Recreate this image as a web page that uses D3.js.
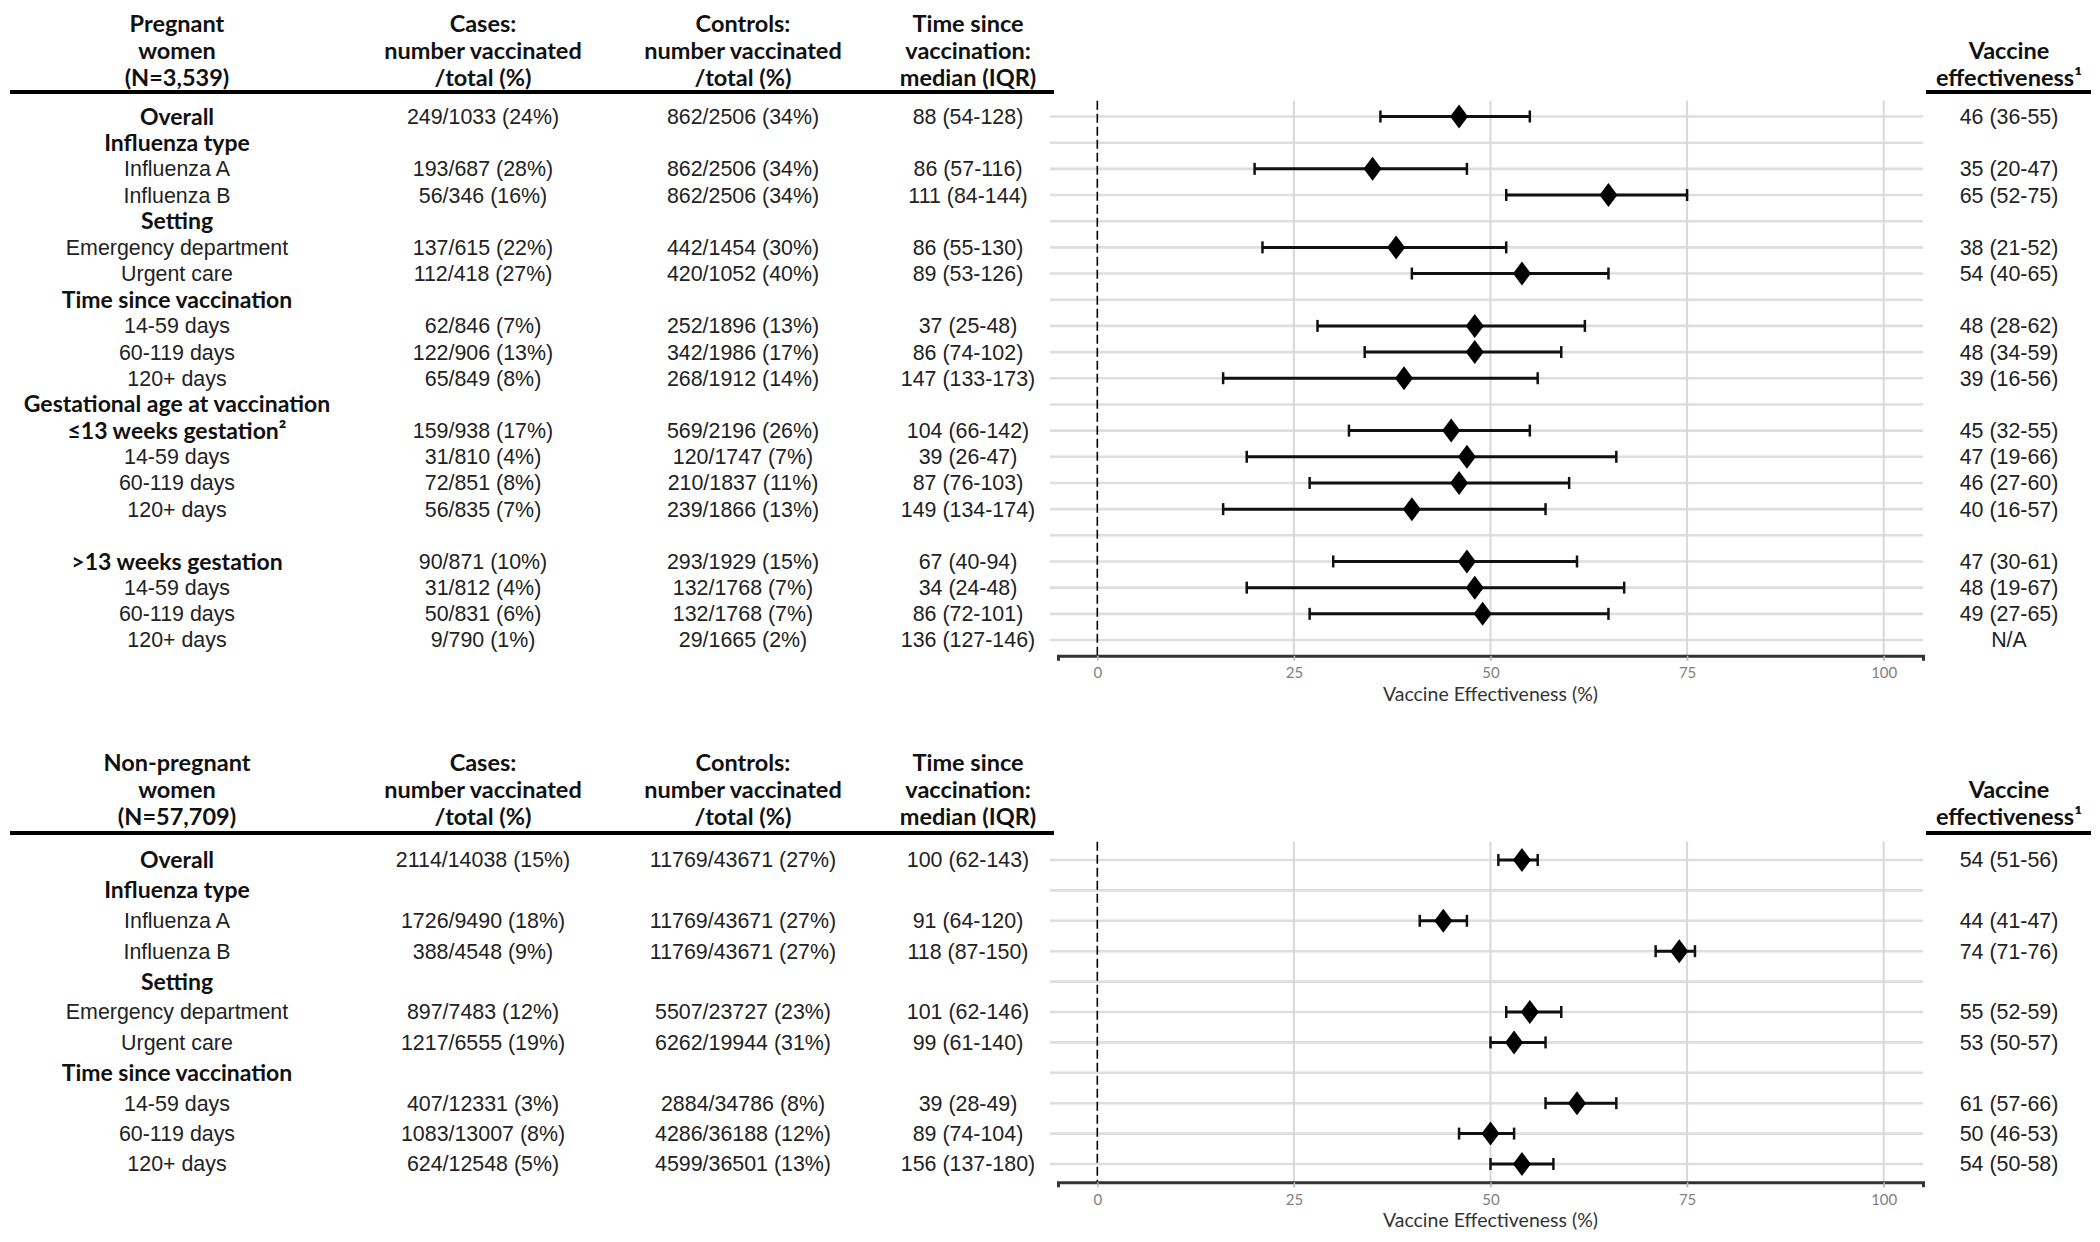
<!DOCTYPE html>
<html lang="en">
<head>
<meta charset="utf-8">
<script src="https://cdn.jsdelivr.net/npm/d3@7"></script>
<style>
body { margin: 0; background: #fff; }
.hdr { font-family: Lato, "Open Sans", sans-serif; font-weight: 700; font-size: 23.5px; fill: #111; }
.cell { font-family: "Liberation Sans", Arial, sans-serif; font-size: 21.4px; fill: #222; }
.cell.b { font-family: Lato, "Open Sans", sans-serif; font-weight: 700; font-size: 23px; fill: #111; }
.tick text { font-family: Lato, sans-serif; font-size: 15px; fill: #808080; }
.atitle { font-family: Lato, sans-serif; font-size: 19.5px; fill: #333; }
</style>
</head>
<body>
<div id="chart"></div>
<script>
// ---- data: pregnant women ----
var pregLabels = ["Overall","Influenza type","Influenza A","Influenza B","Setting","Emergency department","Urgent care",
  "Time since vaccination","14-59 days","60-119 days","120+ days","Gestational age at vaccination","≤13 weeks gestation²",
  "14-59 days","60-119 days","120+ days","",">13 weeks gestation","14-59 days","60-119 days","120+ days"];
var pregBold = [1,1,0,0,1,0,0,1,0,0,0,1,1,0,0,0,0,1,0,0,0];
var pregCases = ["249/1033 (24%)","","193/687 (28%)","56/346 (16%)","","137/615 (22%)","112/418 (27%)","",
  "62/846 (7%)","122/906 (13%)","65/849 (8%)","","159/938 (17%)","31/810 (4%)","72/851 (8%)","56/835 (7%)","",
  "90/871 (10%)","31/812 (4%)","50/831 (6%)","9/790 (1%)"];
var pregControls = ["862/2506 (34%)","","862/2506 (34%)","862/2506 (34%)","","442/1454 (30%)","420/1052 (40%)","",
  "252/1896 (13%)","342/1986 (17%)","268/1912 (14%)","","569/2196 (26%)","120/1747 (7%)","210/1837 (11%)","239/1866 (13%)","",
  "293/1929 (15%)","132/1768 (7%)","132/1768 (7%)","29/1665 (2%)"];
var pregTime = ["88 (54-128)","","86 (57-116)","111 (84-144)","","86 (55-130)","89 (53-126)","",
  "37 (25-48)","86 (74-102)","147 (133-173)","","104 (66-142)","39 (26-47)","87 (76-103)","149 (134-174)","",
  "67 (40-94)","34 (24-48)","86 (72-101)","136 (127-146)"];
var pregVE = [46,null,35,65,null,38,54,null,48,48,39,null,45,47,46,40,null,47,48,49,null];
var pregLo = [36,null,20,52,null,21,40,null,28,34,16,null,32,19,27,16,null,30,19,27,null];
var pregHi = [55,null,47,75,null,52,65,null,62,59,56,null,55,66,60,57,null,61,67,65,null];
var pregVEText = ["46 (36-55)","","35 (20-47)","65 (52-75)","","38 (21-52)","54 (40-65)","",
  "48 (28-62)","48 (34-59)","39 (16-56)","","45 (32-55)","47 (19-66)","46 (27-60)","40 (16-57)","",
  "47 (30-61)","48 (19-67)","49 (27-65)","N/A"];

// ---- data: non-pregnant women ----
var npLabels = ["Overall","Influenza type","Influenza A","Influenza B","Setting","Emergency department","Urgent care",
  "Time since vaccination","14-59 days","60-119 days","120+ days"];
var npBold = [1,1,0,0,1,0,0,1,0,0,0];
var npCases = ["2114/14038 (15%)","","1726/9490 (18%)","388/4548 (9%)","","897/7483 (12%)","1217/6555 (19%)","",
  "407/12331 (3%)","1083/13007 (8%)","624/12548 (5%)"];
var npControls = ["11769/43671 (27%)","","11769/43671 (27%)","11769/43671 (27%)","","5507/23727 (23%)","6262/19944 (31%)","",
  "2884/34786 (8%)","4286/36188 (12%)","4599/36501 (13%)"];
var npTime = ["100 (62-143)","","91 (64-120)","118 (87-150)","","101 (62-146)","99 (61-140)","",
  "39 (28-49)","89 (74-104)","156 (137-180)"];
var npVE = [54,null,44,74,null,55,53,null,61,50,54];
var npLo = [51,null,41,71,null,52,50,null,57,46,50];
var npHi = [56,null,47,76,null,59,57,null,66,53,58];
var npVEText = ["54 (51-56)","","44 (41-47)","74 (71-76)","","55 (52-59)","53 (50-57)","",
  "61 (57-66)","50 (46-53)","54 (50-58)"];

// ---- headers / axis ----
var pregHeader = [["Pregnant","women","(N=3,539)"],["Cases:","number vaccinated","/total (%)"],
  ["Controls:","number vaccinated","/total (%)"],["Time since","vaccination:","median (IQR)"]];
var npHeader = [["Non-pregnant","women","(N=57,709)"],["Cases:","number vaccinated","/total (%)"],
  ["Controls:","number vaccinated","/total (%)"],["Time since","vaccination:","median (IQR)"]];
var veHeader = ["Vaccine","effectiveness¹"];
var xTicks = [0,25,50,75,100];
var xTitle = "Vaccine Effectiveness (%)";

var W = 2100, H = 1242;
var svg = d3.select("#chart").append("svg").attr("width", W).attr("height", H);

var colX = [177, 483, 743, 968];
var veX = 2009;
var x = d3.scaleLinear().domain([-5, 105]).range([1058, 1923]);

function drawPanel(p) {
  var n = p.labels.length;
  var y = d3.scalePoint().domain(d3.range(n)).range([p.y0, p.y1]);
  var step = y.step();
  var top = p.y0 - 0.6 * step, bottom = p.y1 + 0.6 * step;
  var g = svg.append("g");

  // header
  p.header.forEach(function(lines, c) {
    lines.forEach(function(t, k) {
      g.append("text").attr("class", "hdr").attr("x", colX[c]).attr("y", p.hy + k * 27)
        .attr("text-anchor", "middle").attr("dy", "0.35em").text(t);
    });
  });
  veHeader.forEach(function(t, k) {
    g.append("text").attr("class", "hdr").attr("x", veX).attr("y", p.hy + (k + 1) * 27)
      .attr("text-anchor", "middle").attr("dy", "0.35em").text(t);
  });
  g.append("line").attr("x1", 10).attr("x2", 1054).attr("y1", p.ruleY).attr("y2", p.ruleY)
    .attr("stroke", "#000").attr("stroke-width", 4);
  g.append("line").attr("x1", 1926).attr("x2", 2091).attr("y1", p.ruleY).attr("y2", p.ruleY)
    .attr("stroke", "#000").attr("stroke-width", 4);

  // grid
  g.selectAll(".hg").data(d3.range(n)).enter().append("line")
    .attr("x1", 1050).attr("x2", 1923).attr("y1", function(i) { return y(i); }).attr("y2", function(i) { return y(i); })
    .attr("stroke", "#dedede").attr("stroke-width", 2.6);
  g.selectAll(".vg").data(xTicks.slice(1)).enter().append("line")
    .attr("x1", function(d) { return x(d); }).attr("x2", function(d) { return x(d); })
    .attr("y1", top).attr("y2", bottom + 5).attr("stroke", "#d8d8d8").attr("stroke-width", 2);
  g.append("line").attr("x1", x(0)).attr("x2", x(0)).attr("y1", top).attr("y2", bottom)
    .attr("stroke", "#000").attr("stroke-width", 1.6).attr("stroke-dasharray", "9,4");

  // axis
  var ax = g.append("g").attr("transform", "translate(0," + bottom + ")")
    .call(d3.axisBottom(x).tickValues(xTicks).tickSize(5).tickPadding(7));
  ax.select(".domain").attr("stroke", "#333").attr("stroke-width", 3);
  ax.selectAll(".tick line").attr("stroke", "#bbb").attr("stroke-width", 1.5);
  g.append("text").attr("class", "atitle").attr("x", x(50)).attr("y", bottom + 38)
    .attr("text-anchor", "middle").attr("dy", "0.35em").text(xTitle);

  // CI + points
  var idx = d3.range(n).filter(function(i) { return p.ve[i] != null; });
  g.selectAll(".ci").data(idx).enter().append("line")
    .attr("x1", function(i) { return x(p.lo[i]); }).attr("x2", function(i) { return x(p.hi[i]); })
    .attr("y1", function(i) { return y(i); }).attr("y2", function(i) { return y(i); })
    .attr("stroke", "#111").attr("stroke-width", 3);
  [p.lo, p.hi].forEach(function(arr) {
    g.selectAll(null).data(idx).enter().append("line")
      .attr("x1", function(i) { return x(arr[i]); }).attr("x2", function(i) { return x(arr[i]); })
      .attr("y1", function(i) { return y(i) - 6; }).attr("y2", function(i) { return y(i) + 6; })
      .attr("stroke", "#111").attr("stroke-width", 2.5);
  });
  g.selectAll(".pt").data(idx).enter().append("path")
    .attr("d", function(i) {
      var cx = x(p.ve[i]), cy = y(i);
      return "M" + cx + "," + (cy - 12) + "L" + (cx + 9) + "," + cy + "L" + cx + "," + (cy + 12) + "L" + (cx - 9) + "," + cy + "Z";
    })
    .attr("fill", "#000");

  // table text
  var cols = [p.labels, p.cases, p.controls, p.time];
  cols.forEach(function(arr, c) {
    g.selectAll(null).data(arr).enter().append("text")
      .attr("class", function(d, i) { return (c === 0 && p.bold[i]) ? "cell b" : "cell"; })
      .attr("x", colX[c]).attr("y", function(d, i) { return y(i); })
      .attr("text-anchor", "middle").attr("dy", "0.35em").text(function(d) { return d; });
  });
  g.selectAll(null).data(p.veText).enter().append("text").attr("class", "cell")
    .attr("x", veX).attr("y", function(d, i) { return y(i); })
    .attr("text-anchor", "middle").attr("dy", "0.35em").text(function(d) { return d; });
}

drawPanel({labels: pregLabels, bold: pregBold, cases: pregCases, controls: pregControls, time: pregTime,
  ve: pregVE, lo: pregLo, hi: pregHi, veText: pregVEText, header: pregHeader,
  y0: 116.5, y1: 640, hy: 24, ruleY: 92});
drawPanel({labels: npLabels, bold: npBold, cases: npCases, controls: npControls, time: npTime,
  ve: npVE, lo: npLo, hi: npHi, veText: npVEText, header: npHeader,
  y0: 860, y1: 1164, hy: 763, ruleY: 833});
</script>
</body>
</html>
